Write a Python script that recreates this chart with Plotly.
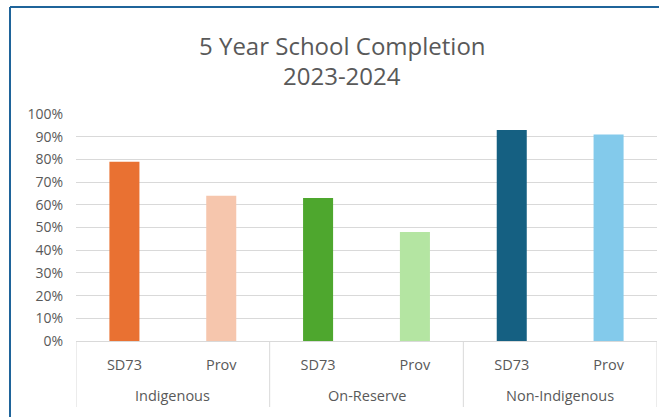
import plotly.graph_objects as go

# Data
groups = ["Indigenous", "Indigenous", "On-Reserve", "On-Reserve", "Non-Indigenous", "Non-Indigenous"]
sources = ["SD73", "Prov", "SD73", "Prov", "SD73", "Prov"]
completion = [0.79, 0.64, 0.63, 0.48, 0.93, 0.91]
bar_colors = ["#E97132", "#F6C6AD", "#4EA72E", "#B4E5A2", "#156082", "#83CAEB"]
y_ticks = [i / 10 for i in range(11)]
title_lines = ["5 Year School Completion", "2023-2024"]

W, H = 659, 417
ML, MR, MT, MB = 76, 2, 114, 76
PW, PH = W - ML - MR, H - MT - MB

FONT = "Open Sans"
GREY = "#595959"
LIGHT = "#D9D9D9"

# one category per bar, labelled with its source
keys = [f"{g}|{s}" for g, s in zip(groups, sources)]

fig = go.Figure(
    go.Bar(
        x=keys,
        y=completion,
        marker=dict(color=bar_colors, line=dict(width=0)),
        customdata=groups,
        hovertemplate="%{customdata} %{text}: %{y:.0%}<extra></extra>",
        text=sources, textposition="none",
    )
)

def px_x(px):
    return (px - ML) / PW

def px_y(py):
    return (H - MB - py) / PH

# Outer frame (left and top edges)
frame = dict(type="line", xref="paper", yref="paper",
             line=dict(color="#1F649A", width=2))
fig.add_shape(**frame, x0=px_x(10), x1=px_x(10), y0=px_y(7), y1=px_y(H + 5))
fig.add_shape(**frame, x0=px_x(10), x1=px_x(W + 5), y0=px_y(7), y1=px_y(7))

# Title lines
for i, line in enumerate(title_lines):
    fig.add_annotation(
        text=line, xref="paper", yref="paper",
        x=px_x(342), y=px_y(45 + 30 * i),
        xanchor="center", yanchor="middle", showarrow=False,
        font=dict(family=FONT, size=24, color=GREY),
    )

# Group labels and the dividers between groups
group_names = list(dict.fromkeys(groups))
idx = 0
bounds = [-0.5]
for g in group_names:
    n = groups.count(g)
    fig.add_annotation(
        text=g, xref="x", yref="paper",
        x=idx + (n - 1) / 2, y=px_y(395),
        xanchor="center", yanchor="middle", showarrow=False,
        font=dict(family=FONT, size=14.5, color=GREY),
    )
    idx += n
    bounds.append(idx - 0.5)
for b in bounds:
    fig.add_shape(type="line", xref="x", yref="paper",
                  x0=b, x1=b, y0=0, y1=px_y(407),
                  line=dict(color=LIGHT, width=1))

fig.update_layout(
    width=W, height=H,
    margin=dict(l=ML, r=MR, t=MT, b=MB),
    paper_bgcolor="white",
    plot_bgcolor="white",
    showlegend=False,
    bargap=0.69,
    font=dict(family=FONT, color=GREY, size=14),
    xaxis=dict(
        type="category",
        tickvals=keys, ticktext=sources,
        range=[-0.5, len(keys) - 0.5],
        showline=True, linecolor=LIGHT, linewidth=1,
        ticks="", showgrid=False,
        ticklabelstandoff=11,
        tickfont=dict(family=FONT, size=14.5, color=GREY),
    ),
    yaxis=dict(
        range=[0, 1],
        tickvals=y_ticks,
        tickformat=".0%",
        showgrid=True, gridcolor=LIGHT, gridwidth=1,
        zeroline=False, showline=False, ticks="",
        ticklabelstandoff=12,
        tickfont=dict(family=FONT, size=14, color=GREY),
    ),
)

fig.write_html("out.html")
